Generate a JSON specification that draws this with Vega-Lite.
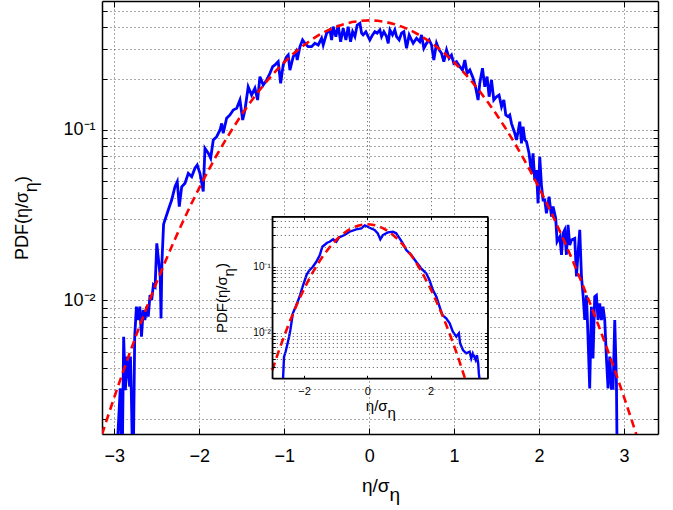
{
  "$schema": "https://vega.github.io/schema/vega-lite/v6.json",
  "width": 556,
  "height": 433,
  "autosize": {"type": "none"},
  "padding": {"left": 102, "top": 1, "right": 15, "bottom": 76},
  "background": "white",
  "config": {
    "view": {"stroke": null},
    "font": "Liberation Sans",
    "axis": {
      "labelFont": "Liberation Sans",
      "titleFont": "Liberation Sans",
      "labelColor": "black",
      "titleColor": "black",
      "tickColor": "black",
      "domainColor": "black",
      "titleFontWeight": "normal",
      "labelOverlap": false,
      "gridColor": "#555555",
      "gridDash": [1, 3],
      "gridWidth": 1
    }
  },
  "datasets": {
    "main": [
      {"x": -3.02, "y": 0.0008}, {"x": -2.99, "y": 0.0008}, {"x": -2.93, "y": 0.00304}, {"x": -2.91, "y": 0.0008},
      {"x": -2.89, "y": 0.00611}, {"x": -2.87, "y": 0.00297}, {"x": -2.85, "y": 0.00467}, {"x": -2.82, "y": 0.00311},
      {"x": -2.81, "y": 0.00467}, {"x": -2.8, "y": 0.0029}, {"x": -2.78, "y": 0.0008}, {"x": -2.76, "y": 0.00611},
      {"x": -2.74, "y": 0.00917}, {"x": -2.72, "y": 0.00766}, {"x": -2.7, "y": 0.00917}, {"x": -2.68, "y": 0.00611},
      {"x": -2.66, "y": 0.00877}, {"x": -2.64, "y": 0.00766}, {"x": -2.62, "y": 0.00917}, {"x": -2.6, "y": 0.00802},
      {"x": -2.58, "y": 0.01074}, {"x": -2.56, "y": 0.01004}, {"x": -2.54, "y": 0.0123}, {"x": -2.52, "y": 0.012},
      {"x": -2.5, "y": 0.0216}, {"x": -2.48, "y": 0.0173}, {"x": -2.46, "y": 0.0138}, {"x": -2.45, "y": 0.00783},
      {"x": -2.44, "y": 0.0165}, {"x": -2.42, "y": 0.028}, {"x": -2.365, "y": 0.0339}, {"x": -2.325, "y": 0.0388},
      {"x": -2.286, "y": 0.0464}, {"x": -2.259, "y": 0.0497}, {"x": -2.235, "y": 0.0355}, {"x": -2.207, "y": 0.0464},
      {"x": -2.168, "y": 0.0487}, {"x": -2.129, "y": 0.0557}, {"x": -2.089, "y": 0.0532}, {"x": -2.051, "y": 0.0596},
      {"x": -2.024, "y": 0.0623}, {"x": -1.992, "y": 0.0557}, {"x": -1.953, "y": 0.0435}, {"x": -1.933, "y": 0.0781},
      {"x": -1.894, "y": 0.073}, {"x": -1.866, "y": 0.0683}, {"x": -1.835, "y": 0.0874}, {"x": -1.795, "y": 0.0914},
      {"x": -1.756, "y": 0.1}, {"x": -1.736, "y": 0.1094}, {"x": -1.718, "y": 0.0957}, {"x": -1.678, "y": 0.1172},
      {"x": -1.639, "y": 0.1225}, {"x": -1.6, "y": 0.131}, {"x": -1.56, "y": 0.134}, {"x": -1.521, "y": 0.15},
      {"x": -1.489, "y": 0.1145}, {"x": -1.462, "y": 0.131}, {"x": -1.424, "y": 0.1795}, {"x": -1.384, "y": 0.1605},
      {"x": -1.345, "y": 0.1758}, {"x": -1.313, "y": 0.15}, {"x": -1.286, "y": 0.2056}, {"x": -1.247, "y": 0.1837},
      {"x": -1.207, "y": 0.1967}, {"x": -1.168, "y": 0.2153}, {"x": -1.136, "y": 0.2355}, {"x": -1.109, "y": 0.241},
      {"x": -1.071, "y": 0.252}, {"x": -1.042, "y": 0.188}, {"x": -1.012, "y": 0.241}, {"x": -0.972, "y": 0.269},
      {"x": -0.953, "y": 0.2754}, {"x": -0.933, "y": 0.2249}, {"x": -0.894, "y": 0.2692}, {"x": -0.862, "y": 0.2882},
      {"x": -0.847, "y": 0.2576}, {"x": -0.815, "y": 0.3083}, {"x": -0.784, "y": 0.3376}, {"x": -0.756, "y": 0.3228},
      {"x": -0.718, "y": 0.3083}, {"x": -0.678, "y": 0.3083}, {"x": -0.639, "y": 0.3228}, {"x": -0.6, "y": 0.3155},
      {"x": -0.56, "y": 0.3455}, {"x": -0.541, "y": 0.3155}, {"x": -0.501, "y": 0.3699}, {"x": -0.462, "y": 0.3866},
      {"x": -0.442, "y": 0.3376}, {"x": -0.424, "y": 0.4043}, {"x": -0.392, "y": 0.3533}, {"x": -0.365, "y": 0.4135},
      {"x": -0.336, "y": 0.33}, {"x": -0.306, "y": 0.3953}, {"x": -0.274, "y": 0.3376}, {"x": -0.247, "y": 0.4043},
      {"x": -0.219, "y": 0.33}, {"x": -0.195, "y": 0.3776}, {"x": -0.168, "y": 0.3533}, {"x": -0.141, "y": 0.4135},
      {"x": -0.109, "y": 0.4231}, {"x": -0.089, "y": 0.3699}, {"x": -0.071, "y": 0.3614}, {"x": -0.039, "y": 0.3776},
      {"x": -0.012, "y": 0.3533}, {"x": 0.008, "y": 0.3376}, {"x": 0.04, "y": 0.3614}, {"x": 0.067, "y": 0.3776},
      {"x": 0.094, "y": 0.3699}, {"x": 0.126, "y": 0.3866}, {"x": 0.146, "y": 0.3533}, {"x": 0.173, "y": 0.3776},
      {"x": 0.205, "y": 0.3533}, {"x": 0.224, "y": 0.3228}, {"x": 0.244, "y": 0.3866}, {"x": 0.275, "y": 0.3614},
      {"x": 0.302, "y": 0.3866}, {"x": 0.322, "y": 0.3533}, {"x": 0.353, "y": 0.3376}, {"x": 0.381, "y": 0.3699},
      {"x": 0.408, "y": 0.3776}, {"x": 0.44, "y": 0.302}, {"x": 0.471, "y": 0.3614}, {"x": 0.499, "y": 0.3376},
      {"x": 0.518, "y": 0.3228}, {"x": 0.558, "y": 0.3455}, {"x": 0.596, "y": 0.33}, {"x": 0.616, "y": 0.3614},
      {"x": 0.644, "y": 0.302}, {"x": 0.675, "y": 0.3228}, {"x": 0.706, "y": 0.3376}, {"x": 0.734, "y": 0.3155},
      {"x": 0.761, "y": 0.2576}, {"x": 0.793, "y": 0.3228}, {"x": 0.824, "y": 0.2951}, {"x": 0.852, "y": 0.2821},
      {"x": 0.879, "y": 0.2518}, {"x": 0.911, "y": 0.2951}, {"x": 0.941, "y": 0.2637}, {"x": 0.969, "y": 0.2754},
      {"x": 0.996, "y": 0.2464}, {"x": 1.028, "y": 0.2518}, {"x": 1.067, "y": 0.2354}, {"x": 1.099, "y": 0.2249},
      {"x": 1.126, "y": 0.2576}, {"x": 1.153, "y": 0.2153}, {"x": 1.185, "y": 0.2249}, {"x": 1.224, "y": 0.2011},
      {"x": 1.255, "y": 0.1758}, {"x": 1.282, "y": 0.15}, {"x": 1.302, "y": 0.188}, {"x": 1.334, "y": 0.2303},
      {"x": 1.361, "y": 0.1795}, {"x": 1.388, "y": 0.2056}, {"x": 1.412, "y": 0.1568}, {"x": 1.44, "y": 0.1967},
      {"x": 1.467, "y": 0.15}, {"x": 1.499, "y": 0.1568}, {"x": 1.529, "y": 0.1605}, {"x": 1.558, "y": 0.1371},
      {"x": 1.585, "y": 0.15}, {"x": 1.608, "y": 0.1225}, {"x": 1.635, "y": 0.1197}, {"x": 1.655, "y": 0.1225},
      {"x": 1.675, "y": 0.1094}, {"x": 1.714, "y": 0.0957}, {"x": 1.734, "y": 0.0874}, {"x": 1.753, "y": 0.0977},
      {"x": 1.773, "y": 0.1119}, {"x": 1.793, "y": 0.0835}, {"x": 1.812, "y": 0.1045}, {"x": 1.832, "y": 0.0874},
      {"x": 1.852, "y": 0.0854}, {"x": 1.882, "y": 0.073}, {"x": 1.911, "y": 0.0557}, {"x": 1.929, "y": 0.073},
      {"x": 1.949, "y": 0.0508}, {"x": 1.969, "y": 0.0582}, {"x": 1.988, "y": 0.0371}, {"x": 2.008, "y": 0.0697},
      {"x": 2.028, "y": 0.0475}, {"x": 2.047, "y": 0.0388}, {"x": 2.067, "y": 0.0388}, {"x": 2.087, "y": 0.0324},
      {"x": 2.118, "y": 0.0406}, {"x": 2.146, "y": 0.031}, {"x": 2.165, "y": 0.0355}, {"x": 2.196, "y": 0.0303},
      {"x": 2.212, "y": 0.0221}, {"x": 2.244, "y": 0.0236}, {"x": 2.264, "y": 0.0185}, {"x": 2.282, "y": 0.0247},
      {"x": 2.302, "y": 0.0259}, {"x": 2.322, "y": 0.0185}, {"x": 2.341, "y": 0.0277}, {"x": 2.361, "y": 0.0211},
      {"x": 2.381, "y": 0.0226}, {"x": 2.42, "y": 0.0231}, {"x": 2.44, "y": 0.0138}, {"x": 2.459, "y": 0.0189},
      {"x": 2.479, "y": 0.0259}, {"x": 2.499, "y": 0.0138}, {"x": 2.518, "y": 0.0107}, {"x": 2.538, "y": 0.00766},
      {"x": 2.558, "y": 0.0107}, {"x": 2.576, "y": 0.0061}, {"x": 2.596, "y": 0.00304}, {"x": 2.616, "y": 0.00917},
      {"x": 2.635, "y": 0.00456}, {"x": 2.655, "y": 0.0105}, {"x": 2.675, "y": 0.0107}, {"x": 2.694, "y": 0.00766},
      {"x": 2.714, "y": 0.0096}, {"x": 2.734, "y": 0.00766}, {"x": 2.753, "y": 0.00917}, {"x": 2.773, "y": 0.00766},
      {"x": 2.793, "y": 0.00456}, {"x": 2.812, "y": 0.00304}, {"x": 2.832, "y": 0.00467}, {"x": 2.852, "y": 0.00304},
      {"x": 2.871, "y": 0.00304}, {"x": 2.891, "y": 0.00766}, {"x": 2.911, "y": 0.00326}, {"x": 2.922, "y": 0.0008}
    ],
    "gauss": [
      {"x": -3.145, "y": 0.00163}, {"x": -3.1, "y": 0.001913}, {"x": -3.0, "y": 0.002702}, {"x": -2.9, "y": 0.003773},
      {"x": -2.8, "y": 0.005209}, {"x": -2.7, "y": 0.00711}, {"x": -2.6, "y": 0.009597}, {"x": -2.5, "y": 0.01281},
      {"x": -2.4, "y": 0.0169}, {"x": -2.3, "y": 0.02205}, {"x": -2.2, "y": 0.02845}, {"x": -2.1, "y": 0.03628},
      {"x": -2.0, "y": 0.04576}, {"x": -1.9, "y": 0.05706}, {"x": -1.8, "y": 0.07035}, {"x": -1.7, "y": 0.08575},
      {"x": -1.6, "y": 0.1034}, {"x": -1.5, "y": 0.1232}, {"x": -1.4, "y": 0.1451}, {"x": -1.3, "y": 0.1691},
      {"x": -1.2, "y": 0.1948}, {"x": -1.1, "y": 0.2218}, {"x": -1.0, "y": 0.2498}, {"x": -0.9, "y": 0.2782},
      {"x": -0.8, "y": 0.3063}, {"x": -0.7, "y": 0.3334}, {"x": -0.6, "y": 0.3589}, {"x": -0.5, "y": 0.382},
      {"x": -0.4, "y": 0.4019}, {"x": -0.3, "y": 0.4182}, {"x": -0.2, "y": 0.4301}, {"x": -0.1, "y": 0.4375},
      {"x": 0.0, "y": 0.44}, {"x": 0.1, "y": 0.4375}, {"x": 0.2, "y": 0.4301}, {"x": 0.3, "y": 0.4182},
      {"x": 0.4, "y": 0.4019}, {"x": 0.5, "y": 0.382}, {"x": 0.6, "y": 0.3589}, {"x": 0.7, "y": 0.3334},
      {"x": 0.8, "y": 0.3063}, {"x": 0.9, "y": 0.2782}, {"x": 1.0, "y": 0.2498}, {"x": 1.1, "y": 0.2218},
      {"x": 1.2, "y": 0.1948}, {"x": 1.3, "y": 0.1691}, {"x": 1.4, "y": 0.1451}, {"x": 1.5, "y": 0.1232},
      {"x": 1.6, "y": 0.1034}, {"x": 1.7, "y": 0.08575}, {"x": 1.8, "y": 0.07035}, {"x": 1.9, "y": 0.05706},
      {"x": 2.0, "y": 0.04576}, {"x": 2.1, "y": 0.03628}, {"x": 2.2, "y": 0.02845}, {"x": 2.3, "y": 0.02205},
      {"x": 2.4, "y": 0.0169}, {"x": 2.5, "y": 0.01281}, {"x": 2.6, "y": 0.009597}, {"x": 2.7, "y": 0.00711},
      {"x": 2.8, "y": 0.005209}, {"x": 2.9, "y": 0.003773}, {"x": 3.0, "y": 0.002702}, {"x": 3.1, "y": 0.001913},
      {"x": 3.2, "y": 0.001339}
    ],
    "inset": [
      {"x": -2.66, "y": 0.00204}, {"x": -2.63, "y": 0.0043}, {"x": -2.58, "y": 0.00515}, {"x": -2.52, "y": 0.0068},
      {"x": -2.47, "y": 0.00869}, {"x": -2.43, "y": 0.011}, {"x": -2.35, "y": 0.0197}, {"x": -2.24, "y": 0.0263},
      {"x": -2.14, "y": 0.0351}, {"x": -2.05, "y": 0.0488}, {"x": -2.0, "y": 0.0573}, {"x": -1.92, "y": 0.0748},
      {"x": -1.84, "y": 0.087}, {"x": -1.72, "y": 0.1}, {"x": -1.61, "y": 0.119}, {"x": -1.5, "y": 0.15},
      {"x": -1.42, "y": 0.201}, {"x": -1.27, "y": 0.231}, {"x": -1.19, "y": 0.239}, {"x": -1.08, "y": 0.26},
      {"x": -0.98, "y": 0.239}, {"x": -0.89, "y": 0.279}, {"x": -0.72, "y": 0.302}, {"x": -0.56, "y": 0.339},
      {"x": -0.35, "y": 0.369}, {"x": -0.19, "y": 0.382}, {"x": -0.08, "y": 0.424}, {"x": -0.03, "y": 0.414},
      {"x": 0.07, "y": 0.39}, {"x": 0.23, "y": 0.36}, {"x": 0.33, "y": 0.321}, {"x": 0.41, "y": 0.26},
      {"x": 0.49, "y": 0.302}, {"x": 0.65, "y": 0.332}, {"x": 0.81, "y": 0.339}, {"x": 0.91, "y": 0.321},
      {"x": 1.02, "y": 0.269}, {"x": 1.12, "y": 0.226}, {"x": 1.23, "y": 0.179}, {"x": 1.39, "y": 0.15},
      {"x": 1.54, "y": 0.119}, {"x": 1.7, "y": 0.0946}, {"x": 1.86, "y": 0.0794}, {"x": 1.96, "y": 0.0628},
      {"x": 2.07, "y": 0.0443}, {"x": 2.18, "y": 0.0351}, {"x": 2.28, "y": 0.0248}, {"x": 2.37, "y": 0.0185},
      {"x": 2.49, "y": 0.0165}, {"x": 2.6, "y": 0.0139}, {"x": 2.7, "y": 0.0104}, {"x": 2.81, "y": 0.00869},
      {"x": 2.89, "y": 0.0098}, {"x": 2.93, "y": 0.0069}, {"x": 3.02, "y": 0.00547}, {"x": 3.12, "y": 0.00487},
      {"x": 3.23, "y": 0.00515}, {"x": 3.28, "y": 0.00408}, {"x": 3.33, "y": 0.00487}, {"x": 3.42, "y": 0.00385},
      {"x": 3.46, "y": 0.00459}, {"x": 3.5, "y": 0.00343}, {"x": 3.52, "y": 0.00242}, {"x": 3.54, "y": 0.00204}
    ],
    "insetGauss": [
      {"x": -3.0, "y": 0.002702}, {"x": -2.9, "y": 0.003773}, {"x": -2.8, "y": 0.005209}, {"x": -2.7, "y": 0.00711},
      {"x": -2.6, "y": 0.009597}, {"x": -2.5, "y": 0.01281}, {"x": -2.4, "y": 0.0169}, {"x": -2.3, "y": 0.02205},
      {"x": -2.2, "y": 0.02845}, {"x": -2.1, "y": 0.03628}, {"x": -2.0, "y": 0.04576}, {"x": -1.9, "y": 0.05706},
      {"x": -1.8, "y": 0.07035}, {"x": -1.7, "y": 0.08575}, {"x": -1.6, "y": 0.1034}, {"x": -1.5, "y": 0.1232},
      {"x": -1.4, "y": 0.1451}, {"x": -1.3, "y": 0.1691}, {"x": -1.2, "y": 0.1948}, {"x": -1.1, "y": 0.2218},
      {"x": -1.0, "y": 0.2498}, {"x": -0.9, "y": 0.2782}, {"x": -0.8, "y": 0.3063}, {"x": -0.7, "y": 0.3334},
      {"x": -0.6, "y": 0.3589}, {"x": -0.5, "y": 0.382}, {"x": -0.4, "y": 0.4019}, {"x": -0.3, "y": 0.4182},
      {"x": -0.2, "y": 0.4301}, {"x": -0.1, "y": 0.4375}, {"x": 0.0, "y": 0.44}, {"x": 0.1, "y": 0.4375},
      {"x": 0.2, "y": 0.4301}, {"x": 0.3, "y": 0.4182}, {"x": 0.4, "y": 0.4019}, {"x": 0.5, "y": 0.382},
      {"x": 0.6, "y": 0.3589}, {"x": 0.7, "y": 0.3334}, {"x": 0.8, "y": 0.3063}, {"x": 0.9, "y": 0.2782},
      {"x": 1.0, "y": 0.2498}, {"x": 1.1, "y": 0.2218}, {"x": 1.2, "y": 0.1948}, {"x": 1.3, "y": 0.1691},
      {"x": 1.4, "y": 0.1451}, {"x": 1.5, "y": 0.1232}, {"x": 1.6, "y": 0.1034}, {"x": 1.7, "y": 0.08575},
      {"x": 1.8, "y": 0.07035}, {"x": 1.9, "y": 0.05706}, {"x": 2.0, "y": 0.04576}, {"x": 2.1, "y": 0.03628},
      {"x": 2.2, "y": 0.02845}, {"x": 2.3, "y": 0.02205}, {"x": 2.4, "y": 0.0169}, {"x": 2.5, "y": 0.01281},
      {"x": 2.6, "y": 0.009597}, {"x": 2.7, "y": 0.00711}, {"x": 2.8, "y": 0.005209}, {"x": 2.9, "y": 0.003773},
      {"x": 3.0, "y": 0.002702}, {"x": 3.08, "y": 0.00205}
    ],
    "box": [{"x0": -3.0, "x1": 3.8, "y0": 0.00204, "y1": 0.573}]
  },
  "resolve": {
    "scale": {"x": "independent", "y": "independent"},
    "axis": {"x": "independent", "y": "independent"}
  },
  "layer": [
    {
      "data": {"name": "main"},
      "mark": {"type": "line", "color": "#0000ff", "strokeWidth": 2.8, "clip": true},
      "encoding": {
        "x": {
          "field": "x", "type": "quantitative",
          "scale": {"domain": [-3.145, 3.4], "nice": false, "zero": false},
          "axis": {
            "orient": "bottom", "values": [-3, -2, -1, 0, 1, 2, 3], "format": "d",
            "labelFontSize": 18, "labelPadding": 19, "tickSize": -6, "domainWidth": 1.5,
            "grid": true, "zindex": 0,
            "title": ["\u2060η/σ\u2002\u2060", "\u2060\u2002\u2002\u2002η\u2060"], "titleFontSize": 19, "titleLineHeight": 9, "titlePadding": 11
          }
        },
        "y": {
          "field": "y", "type": "quantitative",
          "scale": {"type": "log", "domain": [0.00164, 0.572], "nice": false},
          "axis": {
            "orient": "left",
            "values": [0.002, 0.003, 0.004, 0.005, 0.006, 0.007, 0.008, 0.009, 0.01, 0.02, 0.03, 0.04, 0.05, 0.06, 0.07, 0.08, 0.09, 0.1, 0.2, 0.3, 0.4, 0.5],
            "labelExpr": "datum.value == 0.1 ? '10\u207b\u00b9' : (datum.value == 0.01 ? '10\u207b\u00b2' : '')",
            "labelFontSize": 18, "labelPadding": 12, "tickSize": -5, "domainWidth": 1.5,
            "grid": true, "zindex": 0,
            "title": ["PDF(η/σ\u2007)", "\u2060\u2007\u2007\u2007\u2007\u2007\u2007\u200aη\u2060"], "titleFontSize": 18, "titleLineHeight": 9, "titlePadding": 22
          }
        }
      }
    },
    {
      "data": {"name": "gauss"},
      "mark": {"type": "line", "color": "#ff0000", "strokeWidth": 2.6, "strokeDash": [8, 5], "clip": true},
      "encoding": {
        "x": {
          "field": "x", "type": "quantitative",
          "scale": {"domain": [-3.145, 3.4], "nice": false, "zero": false},
          "axis": {"orient": "top", "values": [-3, -2, -1, 0, 1, 2, 3], "labels": false, "tickSize": -6, "domainWidth": 1.5, "grid": false, "title": null}
        },
        "y": {
          "field": "y", "type": "quantitative",
          "scale": {"type": "log", "domain": [0.00164, 0.572], "nice": false},
          "axis": {
            "orient": "right",
            "values": [0.002, 0.003, 0.004, 0.005, 0.006, 0.007, 0.008, 0.009, 0.01, 0.02, 0.03, 0.04, 0.05, 0.06, 0.07, 0.08, 0.09, 0.1, 0.2, 0.3, 0.4, 0.5],
            "labels": false, "tickSize": -5, "domainWidth": 1.5, "grid": false, "title": null
          }
        }
      }
    },
    {
      "data": {"name": "box"},
      "mark": {"type": "rect", "fill": "white", "stroke": "black", "strokeWidth": 1.3},
      "encoding": {
        "x": {"field": "x0", "type": "quantitative", "scale": {"domain": [-3.0, 3.8], "range": [170.3, 385.7], "nice": false, "zero": false}, "axis": null},
        "x2": {"field": "x1"},
        "y": {"field": "y0", "type": "quantitative", "scale": {"type": "log", "domain": [0.00204, 0.573], "range": [377.3, 215.7], "nice": false}, "axis": null},
        "y2": {"field": "y1"}
      }
    },
    {
      "data": {"name": "inset"},
      "mark": {"type": "line", "color": "#0000ff", "strokeWidth": 2.4},
      "encoding": {
        "x": {
          "field": "x", "type": "quantitative",
          "scale": {"domain": [-3.0, 3.8], "range": [170.3, 385.7], "nice": false, "zero": false},
          "axis": {
            "orient": "bottom", "offset": -55.7, "values": [-2, 0, 2], "format": "d",
            "labelFontSize": 11, "labelPadding": 10, "tickSize": -3, "domainWidth": 1.3,
            "grid": true, "zindex": 1,
            "title": ["\u2060η/σ\u2002\u2060", "\u2060\u2002\u2002\u2002η\u2060"], "titleFontSize": 15, "titleLineHeight": 7, "titlePadding": 2
          }
        },
        "y": {
          "field": "y", "type": "quantitative",
          "scale": {"type": "log", "domain": [0.00204, 0.573], "range": [377.3, 215.7], "nice": false},
          "axis": {
            "orient": "left", "offset": -170.3,
            "values": [0.003, 0.004, 0.005, 0.006, 0.007, 0.008, 0.009, 0.01, 0.02, 0.03, 0.04, 0.05, 0.06, 0.07, 0.08, 0.09, 0.1, 0.2, 0.3, 0.4, 0.5],
            "labelExpr": "datum.value == 0.1 ? '10\u207b\u00b9' : (datum.value == 0.01 ? '10\u207b\u00b2' : '')",
            "labelFontSize": 10, "labelPadding": 5, "tickSize": -3, "domainWidth": 1.3,
            "grid": true, "zindex": 1,
            "title": ["PDF(η/σ\u2007)", "\u2060\u2007\u2007\u2007\u2007\u2007\u2007\u200aη\u2060"], "titleFontSize": 15, "titleLineHeight": 7, "titlePadding": 16
          }
        }
      }
    },
    {
      "data": {"name": "insetGauss"},
      "mark": {"type": "line", "color": "#ff0000", "strokeWidth": 2.6, "strokeDash": [8, 5]},
      "encoding": {
        "x": {
          "field": "x", "type": "quantitative",
          "scale": {"domain": [-3.0, 3.8], "range": [170.3, 385.7], "nice": false, "zero": false},
          "axis": {"orient": "top", "offset": -215.7, "values": [-2, 0, 2], "labels": false, "tickSize": -3, "domainWidth": 1.3, "grid": false, "zindex": 1, "title": null}
        },
        "y": {
          "field": "y", "type": "quantitative",
          "scale": {"type": "log", "domain": [0.00204, 0.573], "range": [377.3, 215.7], "nice": false},
          "axis": {
            "orient": "right", "offset": -170.3,
            "values": [0.003, 0.004, 0.005, 0.006, 0.007, 0.008, 0.009, 0.01, 0.02, 0.03, 0.04, 0.05, 0.06, 0.07, 0.08, 0.09, 0.1, 0.2, 0.3, 0.4, 0.5],
            "labels": false, "tickSize": -3, "domainWidth": 1.3, "grid": false, "zindex": 1, "title": null
          }
        }
      }
    }
  ]
}
